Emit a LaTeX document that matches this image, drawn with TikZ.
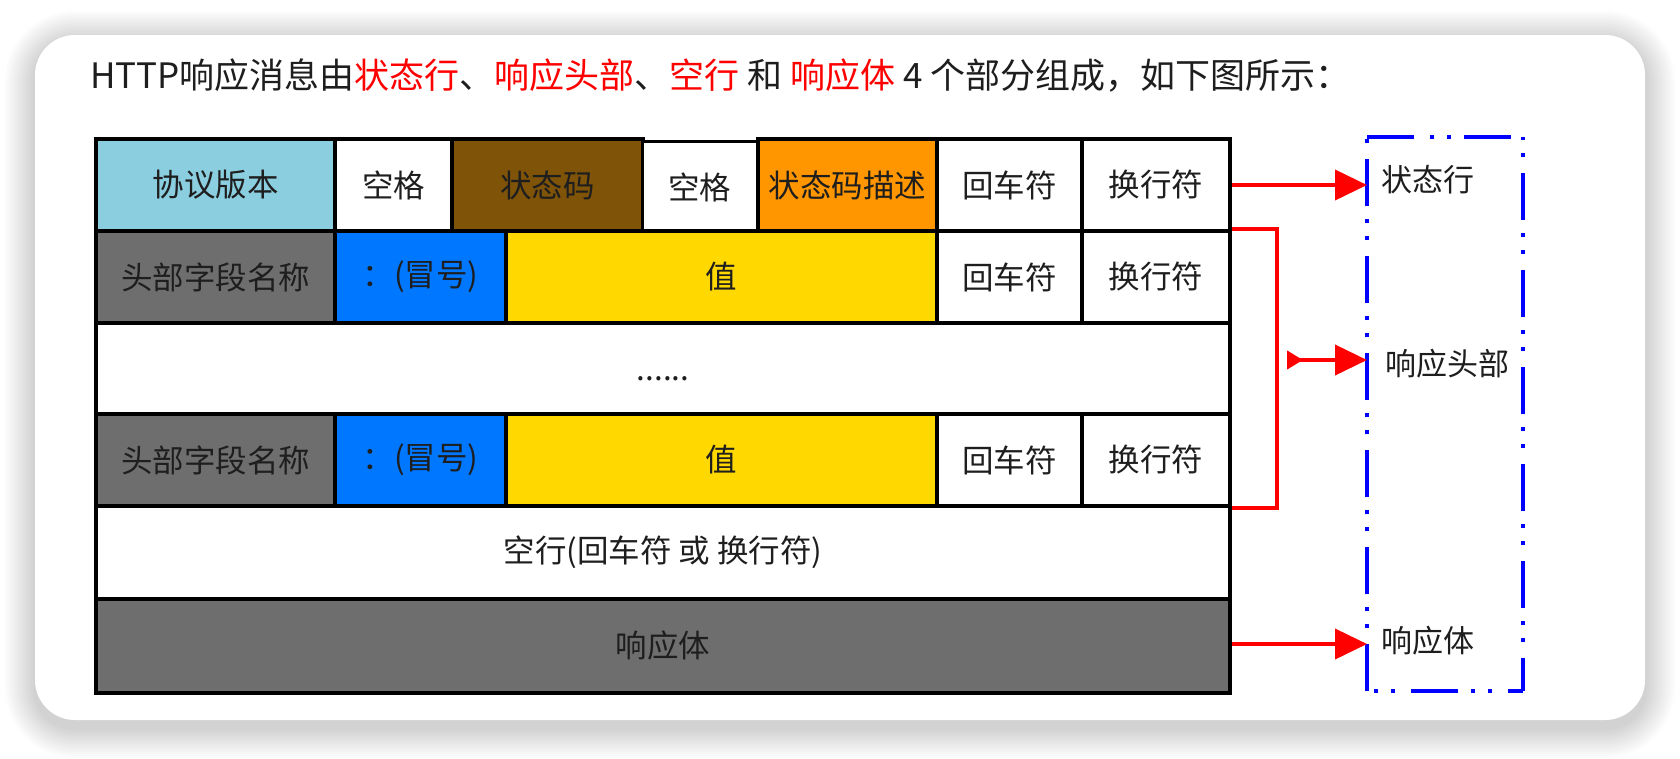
\documentclass[tikz,border=0pt]{standalone}
\usepackage{fontspec}
\setmainfont{Noto Sans CJK SC}
\usetikzlibrary{arrows.meta}
\definecolor{lblue}{HTML}{8ACEE0}
\definecolor{brownc}{HTML}{7F5308}
\definecolor{orangec}{HTML}{FF9600}
\definecolor{grayc}{HTML}{6E6E6E}
\definecolor{bluec}{HTML}{0077FF}
\definecolor{yellowc}{HTML}{FFD800}
\definecolor{txt}{HTML}{1E1E1E}
\tikzset{
  cell/.style={draw=black, line width=4pt, anchor=north west, inner sep=0pt,
    font=\fontsize{31.5}{36}\selectfont, text=txt},
  redline/.style={draw=red, line width=4pt},
  redarrow/.style={redline, -{Triangle[length=32pt,width=30pt]}},
  lbl/.style={anchor=west, inner sep=0pt, font=\fontsize{31}{36}\selectfont, text=txt},
  bluedash/.style={draw=blue, line width=4pt,
    dash pattern=on 47pt off 16pt on 4pt off 13pt on 4pt off 13pt},
}
\begin{document}
\begin{tikzpicture}[x=1pt,y=-1pt]
\useasboundingbox (0,0) rectangle (1680,758);
\fill[white] (0,0) rectangle (1680,758);
% shadow
\foreach \d in {2,4,...,30}{
  \fill[black, opacity=0.013, rounded corners=40+\d] (35-\d,35-\d+6) rectangle (1645+\d,720+\d+8);
}
\fill[white, rounded corners=40] (35,35) rectangle (1645,720);
% title
\node[anchor=west, inner sep=0pt, font=\fontsize{35}{40}\selectfont, text=txt] (title) at (90,75)
  {HTTP响应消息由\textcolor{red}{状态行}、\textcolor{red}{响应头部}、\textcolor{red}{空行} 和 \textcolor{red}{响应体} 4 个部分组成，如下图所示：};
% row 1
\node[cell, fill=lblue,   minimum width=239, minimum height=92] (proto) at (94,137) {协议版本};
\node[cell, fill=white,   minimum width=117, minimum height=92] (sp1)   at (333,137) {空格};
\node[cell, fill=brownc,  minimum width=191, minimum height=92] (code)  at (450,137) {状态码};
\node[cell, fill=white,   minimum width=115, minimum height=92, line width=2.5pt] (sp2) at (641,140) {空格};
\node[cell, fill=orangec, minimum width=179, minimum height=92] (desc)  at (756,137) {状态码描述};
\node[cell, fill=white,   minimum width=145, minimum height=92] (cr1)   at (935,137) {回车符};
\node[cell, fill=white,   minimum width=148, minimum height=92] (lf1)   at (1080,137) {换行符};
% row 2
\node[cell, fill=grayc,   minimum width=239, minimum height=92] (name2)  at (94,229) {头部字段名称};
\node[cell, fill=bluec,   minimum width=171, minimum height=92] (colon2) at (333,229) {：(冒号)};
\node[cell, fill=yellowc, minimum width=431, minimum height=92] (val2)   at (504,229) {值};
\node[cell, fill=white,   minimum width=145, minimum height=92] (cr2)    at (935,229) {回车符};
\node[cell, fill=white,   minimum width=148, minimum height=92] (lf2)    at (1080,229) {换行符};
% row 3
\node[cell, fill=white, minimum width=1134, minimum height=91] (dots) at (94,321) {\smash{\raisebox{-12pt}{......}}};
% row 4
\node[cell, fill=grayc,   minimum width=239, minimum height=92] (name4)  at (94,412) {头部字段名称};
\node[cell, fill=bluec,   minimum width=171, minimum height=92] (colon4) at (333,412) {：(冒号)};
\node[cell, fill=yellowc, minimum width=431, minimum height=92] (val4)   at (504,412) {值};
\node[cell, fill=white,   minimum width=145, minimum height=92] (cr4)    at (935,412) {回车符};
\node[cell, fill=white,   minimum width=148, minimum height=92] (lf4)    at (1080,412) {换行符};
% row 5
\node[cell, fill=white, minimum width=1134, minimum height=93] (empty) at (94,504) {空行(回车符 或 换行符)};
% row 6
\node[cell, fill=grayc, minimum width=1134, minimum height=94] (body) at (94,597) {响应体};
% blue box
\node[anchor=north west, inner sep=0pt, minimum width=156, minimum height=554] (parts) at (1367,137) {};
\draw[bluedash] (parts.south west) -- (parts.north west);
\draw[bluedash] (parts.north west) -- (parts.north east);
\draw[bluedash, dash phase=14pt] (parts.south east) -- (parts.north east);
\draw[bluedash, dash phase=32pt] (parts.south east) -- (parts.south west);
\node[lbl] (lstatus) at (1381,180) {状态行};
\node[lbl] (lheader) at (1385,364) {响应头部};
\node[lbl] (lbody)   at (1381,641) {响应体};
% arrows
\draw[redarrow] (lf1.east) -- (lf1.east -| parts.west);
\coordinate (brk) at (1277,360);
\draw[redline] (lf2.north east) -| (brk) |- (lf4.south east);
\coordinate (tail) at (1287,360);
\draw[redline, {Triangle[reversed,length=16pt,width=18pt]}-{Triangle[length=32pt,width=30pt]}] (tail) -- (tail -| parts.west);
\draw[redarrow] (body.east |- 0,644) -- (parts.west |- 0,644);
\end{tikzpicture}
\end{document}
